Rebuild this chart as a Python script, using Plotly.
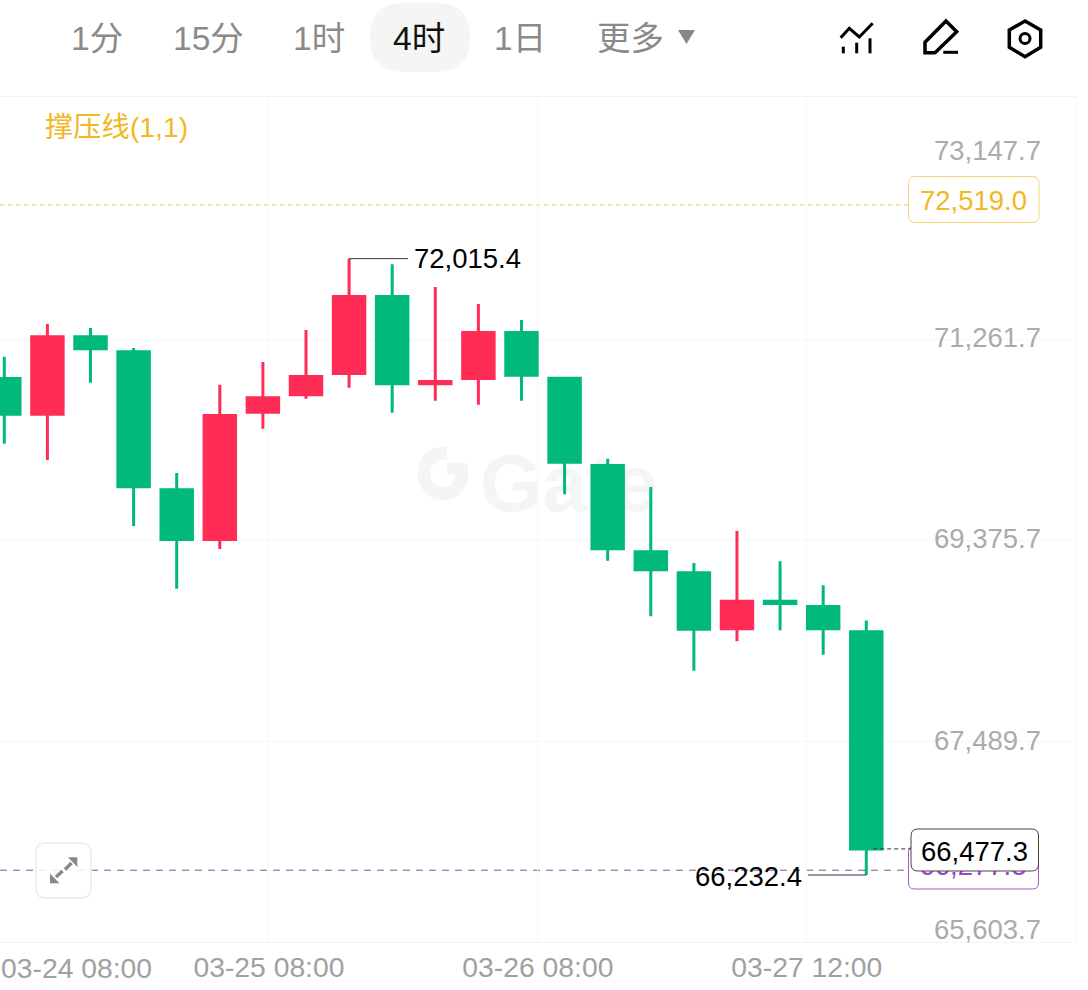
import plotly.graph_objects as go

# 4h candles, values
candle_index = list(range(21))
opens = [70891.1, 70556.1, 71282.4, 71141.6, 69846.7, 69380.4, 70574.9, 70738.1, 70938.0, 71660.5, 70841.3,
         70891.1, 71322.7, 70893.9, 70074.7, 69265.0, 69067.9, 68542.5, 68801.5, 68751.7, 68514.3]
closes = [70556.1, 71282.4, 71169.8, 69874.9, 69380.4, 70543.9, 70710.0, 70909.8, 71660.5, 70841.3, 70862.9,
          71322.7, 70922.0, 70105.7, 69293.1, 69096.1, 68538.7, 68801.5, 68779.9, 68542.5, 66477.3]
highs = [71095.6, 71402.5, 71364.9, 71177.3, 70004.4, 70832.9, 71045.9, 71346.2, 72015.4, 71962.6, 71749.6,
         71590.1, 71440.0, 70908.0, 70138.6, 69873.0, 69159.9, 69460.2, 69175.9, 68950.7, 68620.0]
lows = [70279.3, 70126.4, 70851.7, 69507.1, 68918.7, 69291.3, 70420.0, 70701.5, 70804.7, 70570.2, 70682.8,
        70645.2, 70682.8, 69804.5, 69181.5, 68659.8, 68149.3, 68425.2, 68528.4, 68299.5, 66232.4]

price_ticks = [73147.7, 71261.7, 69375.7, 67489.7, 65603.7]
price_labels = ["73,147.7", "71,261.7", "69,375.7", "67,489.7", "65,603.7"]
grid_prices = [71261.7, 69375.7, 67489.7]
date_ticks = [6.14, 12.38, 18.62]
date_labels = ["03-25 08:00", "03-26 08:00", "03-27 12:00"]
first_date_label = "03-24 08:00"
tab_labels = ["1分", "15分", "1时", "4时", "1日", "更多"]
tab_centers = [97, 208, 319, 419, 520, 630]

resistance = 72519.0
current_mark = 66277.3
last_close = 66477.3
top_high = 72015.4
bottom_low = 66232.4

FONT = "Liberation Sans, Noto Sans CJK SC, sans-serif"
RED = "#FF2D55"
GREEN = "#00B97A"
YELLOW = "#F2B824"
PURPLE = "#A044C8"
GRID = "#F6F6F6"


def round_box(x0, y0, x1, y1, r):
    return (f"M {x0+r} {y0} L {x1-r} {y0} Q {x1} {y0} {x1} {y0+r} L {x1} {y1-r} Q {x1} {y1} {x1-r} {y1} "
            f"L {x0+r} {y1} Q {x0} {y1} {x0} {y1-r} L {x0} {y0+r} Q {x0} {y0} {x0+r} {y0} Z")


def poly(points, closed=False):
    d = "M " + " L ".join(f"{x} {y}" for x, y in points)
    return d + " Z" if closed else d


# x/y is a hidden full-page pixel grid for the app chrome, x2/y2 holds the candles so they draw on top of it
def px_shape(path, fill="rgba(0,0,0,0)", color="rgba(0,0,0,0)", width=0, layer="above"):
    return dict(type="path", path=path, xref="x", yref="y", fillcolor=fill, layer=layer,
                line=dict(color=color, width=width))


def px_text(text, x, y, color, size, xanchor="center"):
    return dict(text=text, x=x, y=y, xref="x", yref="y", showarrow=False,
                xanchor=xanchor, font=dict(family=FONT, size=size, color=color))


fig = go.Figure()

# purple label sits under the white last-price box, so it has to be a trace
fig.add_trace(go.Scatter(
    x=[973], y=[868], mode="text", text=["66,277.3"], textposition="middle center",
    textfont=dict(family=FONT, size=27.5, color=PURPLE), hoverinfo="skip", showlegend=False,
))

fig.add_trace(go.Candlestick(
    x=candle_index, open=opens, high=highs, low=lows, close=closes, xaxis="x2", yaxis="y2",
    increasing=dict(line=dict(color=RED, width=3), fillcolor=RED),
    decreasing=dict(line=dict(color=GREEN, width=3), fillcolor=GREEN),
    whiskerwidth=0, hoverinfo="skip", showlegend=False,
))

shapes = [
    # watermark
    dict(type="rect", xref="x", yref="y", x0=478, x1=660, y0=440, y1=510, layer="below",
         line=dict(width=0), fillcolor="rgba(0,0,0,0)",
         label=dict(text="<b>Gate</b>", font=dict(family=FONT, size=80, color="#F4F5F5"),
                    textposition="middle center")),
    dict(type="circle", xref="x", yref="y", x0=424, x1=462, y0=453, y1=494, layer="below",
         line=dict(color="#F4F5F5", width=13), fillcolor="rgba(0,0,0,0)"),
    dict(type="rect", xref="x", yref="y", x0=447, x1=472, y0=444, y1=463, layer="below",
         line=dict(width=0), fillcolor="white"),
    dict(type="rect", xref="x", yref="y", x0=447, x1=462, y0=463, y1=475, layer="below",
         line=dict(width=0), fillcolor="#F4F5F5"),
    # level lines
    dict(type="line", xref="x", yref="y2", x0=0, x1=908, y0=resistance, y1=resistance, layer="below",
         line=dict(color="#F5DC85", width=1.5, dash="4px 4px")),
    dict(type="line", xref="x", yref="y2", x0=0, x1=908, y0=current_mark, y1=current_mark, layer="below",
         line=dict(color="#8E44AD", width=1, dash="7px 6px")),
    dict(type="line", xref="x2", yref="y2", x0=20.16, x1=21.04, y0=last_close, y1=last_close,
         line=dict(color="#333333", width=1, dash="4px 3px")),
    # high / low leaders
    dict(type="line", xref="x2", yref="y2", x0=8, x1=9.37, y0=top_high, y1=top_high,
         line=dict(color="#333333", width=1)),
    dict(type="line", xref="x2", yref="y2", x0=18.65, x1=20, y0=bottom_low, y1=bottom_low,
         line=dict(color="#333333", width=1)),
    # price boxes
    px_shape(round_box(908.5, 176.5, 1039, 222.5, 7), "white", "#F3D577", 1),
    px_shape(round_box(908.5, 846, 1038.5, 889, 6), "white", "#A45CC0", 1, layer="below"),
    px_shape(round_box(911, 829, 1038.5, 871, 7), "white", "#444444", 1),
    # selected tab
    px_shape(round_box(370, 3, 470, 72, 34), "#F5F5F5"),
    # tab arrow
    px_shape(poly([(678, 30), (695, 30), (686.5, 44)], True), "#888888"),
    # chart icon
    px_shape(poly([(840.7, 37.7), (849.3, 28.3), (859.3, 37), (872.7, 23.3)]), color="black", width=3),
    px_shape(poly([(843.3, 46.7), (843.3, 53.3)]), color="black", width=3),
    px_shape(poly([(856.7, 42.7), (856.7, 53.3)]), color="black", width=3),
    px_shape(poly([(870, 38.3), (870, 53.3)]), color="black", width=3),
    # pencil icon
    px_shape(poly([(946, 21), (956.7, 31.7), (935, 52.7), (925, 52.7), (925, 42.3)], True), color="black", width=3.5),
    px_shape(poly([(943.3, 52.3), (958, 52.3)]), color="black", width=3),
    # settings icon
    px_shape(poly([(1025, 21), (1040.7, 30), (1040.7, 47.3), (1025, 56.7), (1009.3, 47.3), (1009.3, 30)], True),
             color="black", width=3.5),
    dict(type="circle", xref="x", yref="y", x0=1020, x1=1030, y0=33.5, y1=43.5, line=dict(color="black", width=3)),
    # fullscreen button
    px_shape(round_box(36, 843, 91, 898, 10), "rgba(255,255,255,0.85)", "#EFEFEF", 2),
    px_shape(poly([(68, 857.3), (77.3, 857.3), (77.3, 867)], True), "#888888"),
    px_shape(poly([(50, 873.5), (50, 883.3), (59.5, 883.3)], True), "#888888"),
    px_shape(poly([(71.5, 863), (65, 869.5)]), color="#888888", width=3.5),
    px_shape(poly([(56, 877), (62.5, 871)]), color="#888888", width=3.5),
]

annotations = []
for label, center in zip(tab_labels, tab_centers):
    selected = label == "4时"
    annotations.append(px_text(label, center, 38, "#111111" if selected else "#8A8A8A", 33.5))
annotations.append(px_text("撑压线(1,1)", 43, 127, YELLOW, 28.3, xanchor="left"))
annotations.append(px_text("72,519.0", 973.5, 200, YELLOW, 27.5))
annotations.append(px_text("66,477.3", 974, 851, "black", 27.5))
annotations.append(px_text(first_date_label, 76, 968, "#A0A0A0", 28.3))

# price labels sit just over their gridline, top and bottom ones are pushed inside
label_shift = [-13, 2, 2, 1, 13]
for value, label, shift in zip(price_ticks, price_labels, label_shift):
    annotations.append(dict(text=label, x=1043, y=value, xref="x", yref="y2", yshift=shift, showarrow=False,
                            xanchor="right", font=dict(family=FONT, size=27.5, color="#ABABAB")))

annotations.append(dict(text="72,015.4", x=9.45, y=top_high, xref="x2", yref="y2", showarrow=False, xanchor="left",
                        font=dict(family=FONT, size=27.5, color="black")))
annotations.append(dict(text="66,232.4", x=18.55, y=bottom_low, xref="x2", yref="y2", showarrow=False, xanchor="right",
                        yshift=-1, font=dict(family=FONT, size=27.5, color="black")))

fig.update_layout(
    width=1088, height=990, margin=dict(l=0, r=0, t=0, b=0, pad=0),
    paper_bgcolor="white", plot_bgcolor="rgba(0,0,0,0)", showlegend=False, hovermode=False,
    boxgap=0.27, boxgroupgap=0, shapes=shapes, annotations=annotations,
    xaxis=dict(domain=[0, 1], range=[0, 1088], visible=False, anchor="y"),
    yaxis=dict(domain=[0, 1], range=[990, 0], visible=False, anchor="x"),
    xaxis2=dict(domain=[0, 1076 / 1088], range=[-0.0998, 24.866], anchor="y2", tickvals=date_ticks,
                ticktext=date_labels, tickfont=dict(family=FONT, size=28.3, color="#A0A0A0"), ticks="", showgrid=True,
                gridcolor=GRID, gridwidth=1, zeroline=False, showline=True, mirror=True, linecolor="#F3F3F3",
                linewidth=1, rangeslider=dict(visible=False)),
    yaxis2=dict(domain=[48 / 990, 893 / 990], range=[65603.7, 73532.4], anchor="x2", tickvals=grid_prices,
                showticklabels=False, ticks="", showgrid=True, gridcolor=GRID, gridwidth=1, zeroline=False,
                showline=True, mirror=True, linecolor=GRID, linewidth=1),
)

fig.write_html("out.html", config=dict(displayModeBar=False), post_script="document.body.style.margin='0';")
